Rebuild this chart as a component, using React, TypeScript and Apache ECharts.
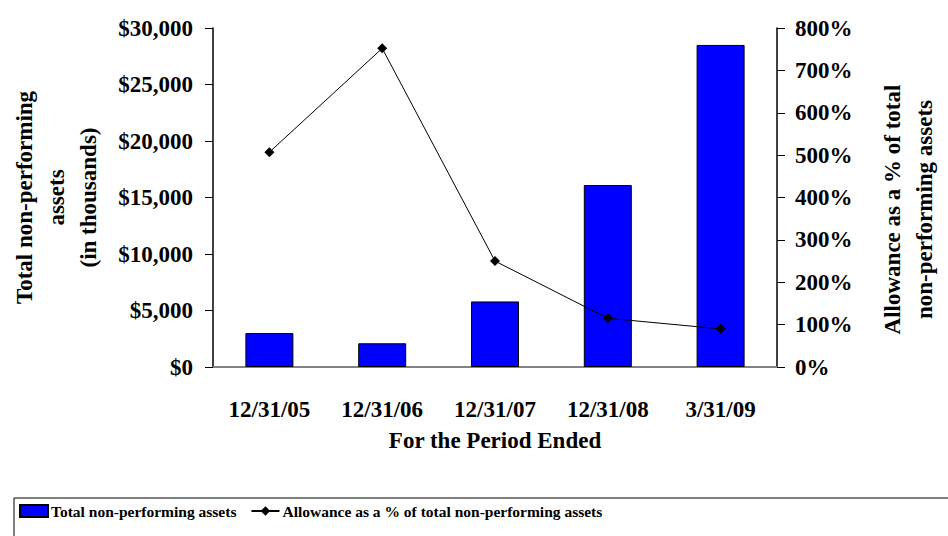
import React, { useEffect, useRef } from "react";
import * as echarts from "echarts";

const categories = ["12/31/05", "12/31/06", "12/31/07", "12/31/08", "3/31/09"];
const assetsValues = [3000, 2100, 5800, 16100, 28500];
const allowancePct = [507, 752, 250, 115, 90];
const barName = "Total non-performing assets";
const lineName = "Allowance as a % of total non-performing assets";

const FONT = "'Liberation Serif', 'Times New Roman', serif";

export default function App() {
  const ref = useRef<HTMLDivElement>(null);
  useEffect(() => {
    if (!ref.current) return;
    const chart = echarts.init(ref.current, undefined, { renderer: "svg" });
    const lbl = { fontFamily: FONT, fontWeight: "bold", fontSize: 23, color: "#000" };
    chart.setOption({
      animation: false,
      backgroundColor: "#fff",
      grid: { left: 212, right: 155, top: 28, bottom: 169, containLabel: false },
      legend: {
        left: 14,
        top: 498,
        width: 2000,
        padding: [5, 400, 20, 5],
        borderColor: "#000",
        borderWidth: 1,
        itemWidth: 28,
        itemHeight: 12,
        itemGap: 14,
        textStyle: { fontFamily: FONT, fontWeight: "bold", fontSize: 15.5, color: "#000", padding: [0, 0, 0, -2] },
        data: [
          { name: barName, icon: "rect" },
          { name: lineName },
        ],
      },
      xAxis: [
        {
          type: "category",
          data: categories,
          position: "bottom",
          axisLine: { lineStyle: { color: "#000", width: 1.5 } },
          axisTick: { show: false },
          axisLabel: { ...lbl, margin: 31 },
          name: "For the Period Ended",
          nameLocation: "middle",
          nameGap: 62,
          nameTextStyle: { ...lbl },
        },
        {
          type: "category",
          data: categories,
          position: "top",
          axisLine: { lineStyle: { color: "#999", width: 1.5 } },
          axisTick: { show: false },
          axisLabel: { show: false },
        },
      ],
      yAxis: [
        {
          type: "value",
          min: 0,
          max: 30000,
          interval: 5000,
          position: "left",
          splitLine: { show: false },
          axisLine: { show: true, lineStyle: { color: "#000", width: 1.5 } },
          axisTick: { show: true, inside: false, length: 8, lineStyle: { color: "#000" } },
          axisLabel: {
            ...lbl,
            margin: 20,
            formatter: (v: number) => "$" + v.toLocaleString("en-US"),
          },
          name: "Total non-performing\nassets\n(in thousands)",
          nameLocation: "middle",
          nameGap: 109,
          nameTextStyle: { ...lbl, lineHeight: 32 },
        },
        {
          type: "value",
          min: 0,
          max: 800,
          interval: 100,
          position: "right",
          splitLine: { show: false },
          axisLine: { show: true, lineStyle: { color: "#000", width: 1.5 } },
          axisTick: { show: true, inside: false, length: 8, lineStyle: { color: "#000" } },
          axisLabel: { ...lbl, margin: 18, formatter: "{value}%" },
          name: "Allowance as a % of total\nnon-performing assets",
          nameLocation: "middle",
          nameGap: 99,
          nameTextStyle: { ...lbl, lineHeight: 32, padding: [0, 24, 0, 0] },
        },
      ],
      series: [
        {
          name: barName,
          type: "bar",
          data: assetsValues,
          barWidth: 48,
          xAxisIndex: 0,
          yAxisIndex: 0,
          itemStyle: { color: "#0000ff", borderColor: "#000", borderWidth: 1 },
        },
        {
          name: lineName,
          type: "line",
          data: allowancePct,
          xAxisIndex: 0,
          yAxisIndex: 1,
          symbol: "diamond",
          symbolSize: 10,
          lineStyle: { color: "#000", width: 1 },
          itemStyle: { color: "#000" },
        },
      ],
    });
    return () => chart.dispose();
  }, []);
  return (
    <div
      ref={ref}
      style={{ position: "absolute", left: 0, top: 0, width: 948, height: 536 }}
    />
  );
}
